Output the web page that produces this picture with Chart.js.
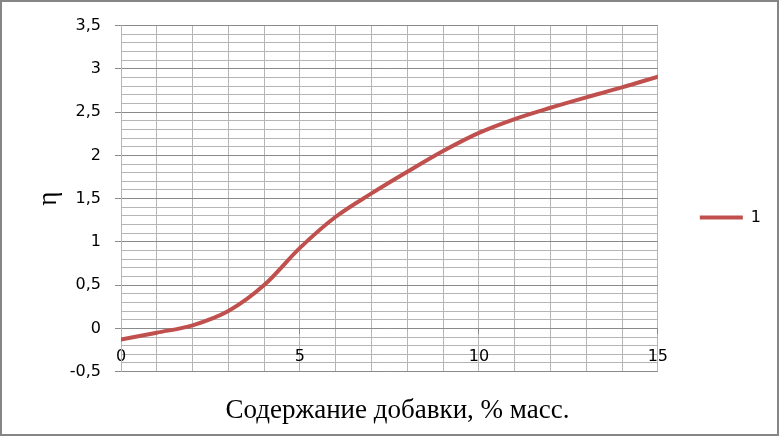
<!DOCTYPE html>
<html>
<head>
<meta charset="utf-8">
<script src="https://cdn.jsdelivr.net/npm/chart.js@4"></script>
<style>
    body { margin: 0; background: #fff; }
    #frame {
        width: 779px;
        height: 436px;
        box-sizing: border-box;
        border: 2px solid #868686;
        background: #fff;
    }
    canvas { display: block; }
</style>
</head>
<body>
<div id="frame">
    <canvas id="eta-chart" width="775" height="432"></canvas>
</div>
<script>
// additive content, % mass
const additiveContent = [0, 1, 2, 3, 4, 5, 6, 7, 8, 9, 10, 11, 12, 13, 14, 15];
// eta values, series "1"
const etaValues = [-0.13, -0.05, 0.035, 0.2, 0.5, 0.93, 1.29, 1.56, 1.81, 2.05, 2.26, 2.42, 2.55, 2.67, 2.785, 2.91];
const seriesLabel = '1';
const xTitle = 'Содержание добавки, % масс.';
const yTitle = 'η';

const minorGrid = '#b5b5b5';
const majorGrid = '#8a8a8a';

function isMajor(value, step) {
    const r = Math.round(value * 10);
    return r % step === 0;
}

function formatTick(value) {
    return (Math.round(value * 10) / 10).toString().replace('.', ',');
}

function createEtaChart() {
    const ctx = document.getElementById('eta-chart').getContext('2d');
    Chart.defaults.font.family = 'DejaVu Sans';
    Chart.defaults.font.size = 16;
    Chart.defaults.color = '#000';

    new Chart(ctx, {
        type: 'line',
        data: {
            datasets: [{
                label: seriesLabel,
                data: additiveContent.map((x, i) => ({ x: x, y: etaValues[i] })),
                borderColor: '#c0504d',
                backgroundColor: '#c0504d',
                borderWidth: 4,
                borderCapStyle: 'round',
                pointRadius: 0,
                cubicInterpolationMode: 'monotone',
                fill: false
            }]
        },
        options: {
            responsive: false,
            animation: false,
            devicePixelRatio: 1,
            layout: {
                padding: { left: 22, right: 6, top: 22, bottom: 0 }
            },
            scales: {
                x: {
                    type: 'linear',
                    position: { y: 0 },
                    min: 0,
                    max: 15,
                    ticks: {
                        stepSize: 1,
                        autoSkip: false,
                        maxRotation: 0,
                        padding: 14,
                        callback: value => (value % 5 === 0 ? String(value) : '')
                    },
                    grid: {
                        color: minorGrid,
                        lineWidth: 1,
                        tickLength: 5,
                        tickColor: c => (c.tick && c.tick.value % 5 === 0 ? majorGrid : 'rgba(0,0,0,0)')
                    },
                    border: { color: majorGrid, width: 1 }
                },
                y: {
                    type: 'linear',
                    min: -0.5,
                    max: 3.5,
                    afterFit: scale => { scale.width = 97; },
                    ticks: {
                        stepSize: 0.1,
                        maxTicksLimit: 100,
                        autoSkip: false,
                        padding: 14,
                        callback: value => (isMajor(value, 5) ? formatTick(value) : '')
                    },
                    grid: {
                        color: c => (c.tick && isMajor(c.tick.value, 5) ? majorGrid : minorGrid),
                        lineWidth: 1,
                        tickLength: 6,
                        tickColor: c => (c.tick && isMajor(c.tick.value, 5) ? majorGrid : 'rgba(0,0,0,0)')
                    },
                    border: { color: minorGrid, width: 1 },
                    title: {
                        display: true,
                        text: yTitle,
                        font: { family: 'Liberation Serif', size: 27 },
                        padding: { top: 9, bottom: 0 }
                    }
                }
            },
            plugins: {
                legend: {
                    position: 'right',
                    fullSize: false,
                    title: {
                        display: true,
                        text: ' ',
                        padding: 0,
                        font: { size: 38, lineHeight: 1 }
                    },
                    labels: {
                        usePointStyle: true,
                        pointStyle: 'line',
                        pointStyleWidth: 43,
                        padding: 42,
                        font: { size: 16 }
                    }
                },
                title: {
                    display: true,
                    text: xTitle,
                    position: 'bottom',
                    color: '#000',
                    font: { family: 'Liberation Serif', size: 27, weight: 'normal' },
                    padding: { top: 23, bottom: 7 }
                },
                tooltip: { enabled: false }
            }
        }
    });
}

createEtaChart();
</script>
</body>
</html>
